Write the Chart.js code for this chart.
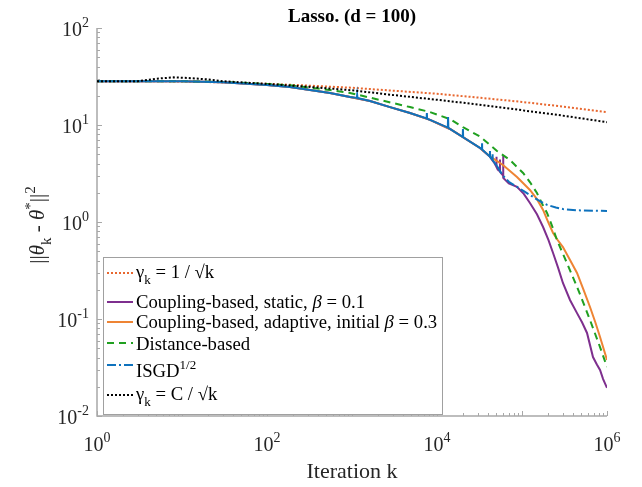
<!DOCTYPE html>
<html>
<head>
<meta charset="utf-8">
<script src="https://cdn.jsdelivr.net/npm/chart.js@4.4.1/dist/chart.umd.min.js"></script>
<style>
html, body { margin: 0; padding: 0; background: #fff; }
</style>
</head>
<body>
<canvas id="chart" width="642" height="487"></canvas>
<script>
// values (iteration k, error)
const kStep1 = [1, 3, 10, 30, 100, 300, 1000, 3000, 10000, 30000, 100000, 300000, 1000000];
const errStep1 = [28.3, 28.3, 28.1, 27.5, 26.6, 25.5, 24.2, 22.6, 21.0, 19.2, 17.3, 15.5, 13.6];

const kStatic = [1, 10, 30, 100, 186, 321, 551, 947, 1630, 2800, 4810, 8280, 14200, 20200, 32000, 42000, 47000, 50000, 50100, 50200, 55000, 55100, 55200, 60000, 60100, 60200, 70000, 87300, 105000, 124000, 150000, 177000, 205000, 232000, 265000, 303000, 367000, 444000, 510000, 582000, 684000, 760000, 828000, 900000, 1000000];
const errStatic = [28.3, 28.3, 27.6, 25.8, 24.6, 23.0, 21.4, 19.4, 17.7, 15.3, 13.3, 11.3, 9.1, 7.5, 5.8, 4.7, 4.1, 3.7, 4.7, 3.68, 3.3, 4.4, 3.28, 3.0, 4.8, 2.85, 2.5, 2.30, 1.95, 1.57, 1.2, 0.888, 0.65, 0.479, 0.34, 0.235, 0.157, 0.115, 0.092, 0.0718, 0.0405, 0.034, 0.0298, 0.024, 0.0195];

const kAdaptive = [1, 10, 30, 100, 186, 321, 551, 947, 1630, 2800, 4810, 8280, 14200, 20200, 32000, 42000, 59700, 87300, 124000, 150000, 177000, 205000, 232000, 260000, 303000, 370000, 444000, 530000, 631000, 730000, 828000, 1000000];
const errAdaptive = [28.3, 28.3, 27.6, 25.8, 24.6, 23.0, 21.4, 19.4, 17.7, 15.3, 13.3, 11.3, 9.1, 7.5, 5.8, 4.75, 3.87, 2.91, 2.14, 1.72, 1.33, 0.98, 0.77, 0.66, 0.552, 0.40, 0.298, 0.20, 0.133, 0.092, 0.0652, 0.0378];

const kDistance = [1, 10, 30, 100, 200, 551, 947, 2135, 4810, 8280, 14200, 20200, 32000, 50800, 72300, 103000, 125000, 150000, 172000, 197000, 225000, 258000, 338000, 444000, 530000, 631000, 828000, 1000000];
const errDistance = [28.3, 28.3, 27.8, 26.5, 25.5, 22.9, 21.4, 18.1, 15.3, 13.6, 11.5, 9.5, 7.6, 5.4, 4.35, 3.2, 2.55, 1.99, 1.55, 1.24, 0.92, 0.652, 0.377, 0.214, 0.145, 0.0977, 0.0514, 0.032];

const kIsgd = [1, 10, 30, 100, 186, 321, 551, 947, 1140, 1150, 1160, 1630, 2800, 4810, 7550, 7600, 7650, 8280, 13400, 13500, 13600, 20100, 20200, 20300, 32000, 33800, 33900, 34000, 41900, 42000, 42100, 45000, 45100, 45200, 50800, 59700, 70000, 87300, 105000, 124000, 155000, 197000, 250000, 303000, 450000, 1000000];
const errIsgd = [28.3, 28.3, 27.6, 25.8, 24.6, 23.0, 21.4, 19.4, 19.0, 20.4, 18.95, 17.7, 15.3, 13.3, 11.7, 13.3, 11.6, 11.3, 9.4, 12.1, 9.35, 7.52, 9.1, 7.48, 5.8, 5.6, 6.5, 5.58, 4.72, 5.4, 4.68, 4.37, 5.0, 4.33, 3.78, 3.0, 2.6, 2.30, 2.08, 1.90, 1.68, 1.50, 1.41, 1.36, 1.32, 1.30];

const kStepC = [1, 3, 5, 8, 12, 20, 30, 100, 300, 1000, 3000, 10000, 30000, 100000, 300000, 1000000];
const errStepC = [28.3, 28.3, 30.0, 31.0, 30.5, 29.5, 28.3, 26.5, 24.8, 22.8, 20.4, 18.2, 16.3, 14.2, 12.5, 10.7];

const seriesNames = ['γk = 1 / √k', 'Coupling-based, static, β = 0.1', 'Coupling-based, adaptive, initial β = 0.3', 'Distance-based', 'ISGD1/2', 'γk = C / √k'];
// same names split into pieces for sub/superscripts
const legendParts = [
	[['γ', ''], ['k', 'sub'], [' = 1 / √k', '']],
	[['Coupling-based, static, ', ''], ['β', 'i'], [' = 0.1', '']],
	[['Coupling-based, adaptive, initial ', ''], ['β', 'i'], [' = 0.3', '']],
	[['Distance-based', '']],
	[['ISGD', ''], ['1/2', 'sup']],
	[['γ', ''], ['k', 'sub'], [' = C / √k', '']]
];
const xTickExps = [0, 2, 4, 6];
const yTickExps = [-2, -1, 0, 1, 2];

const FONT = '"Liberation Serif", "Times New Roman", serif';

function pts(ks, vs) {
	return ks.map((k, i) => ({ x: k, y: vs[i] }));
}

function drawRich(ctx, parts, x, y, size, align) {
	const fontFor = st => {
		const s = (st === 'sub' || st === 'sup') ? Math.round(size * 0.7) : size;
		return (st === 'i' ? 'italic ' : '') + s + 'px ' + FONT;
	};
	let w = 0;
	parts.forEach(([t, st]) => { ctx.font = fontFor(st); w += ctx.measureText(t).width; });
	let cx = align === 'center' ? x - w / 2 : (align === 'right' ? x - w : x);
	ctx.textAlign = 'left';
	ctx.textBaseline = 'alphabetic';
	parts.forEach(([t, st]) => {
		ctx.font = fontFor(st);
		const dy = st === 'sub' ? size * 0.33 : (st === 'sup' ? -size * 0.45 : 0);
		ctx.fillText(t, cx, y + dy);
		cx += ctx.measureText(t).width;
	});
	return w;
}

const axesPlugin = {
	id: 'matlabAxes',
	beforeDatasetsDraw(chart) {
		const { ctx, chartArea: a, scales: { x, y } } = chart;
		ctx.save();
		ctx.strokeStyle = '#a8a8a8';
		ctx.lineWidth = 1;
		// inward ticks
		for (let e = 0; e <= 6; e++) {
			for (let m = 1; m <= 9; m++) {
				const v = m * Math.pow(10, e);
				if (v > 1e6) break;
				const px = Math.round(x.getPixelForValue(v)) + 0.5;
				const len = m === 1 ? 5 : 3;
				ctx.beginPath();
				ctx.moveTo(px, a.bottom);
				ctx.lineTo(px, a.bottom - len);
				ctx.stroke();
			}
		}
		for (let e = -2; e <= 2; e++) {
			for (let m = 1; m <= 9; m++) {
				const v = m * Math.pow(10, e);
				if (v > 100) break;
				const py = Math.round(y.getPixelForValue(v)) + 0.5;
				const len = m === 1 ? 5 : 3;
				ctx.beginPath();
				ctx.moveTo(a.left, py);
				ctx.lineTo(a.left + len, py);
				ctx.stroke();
			}
		}
		// axis lines (left and bottom only)
		ctx.lineWidth = 1.5;
		ctx.beginPath();
		ctx.moveTo(a.left, a.top);
		ctx.lineTo(a.left, a.bottom);
		ctx.lineTo(a.right, a.bottom);
		ctx.stroke();
		ctx.restore();
	},
	afterDatasetsDraw(chart) {
		const { ctx, chartArea: a, scales: { x, y } } = chart;
		ctx.save();
		// legend box
		const box = { left: 103, top: 257, right: 442, bottom: 414 };
		ctx.fillStyle = '#fff';
		ctx.fillRect(box.left, box.top, box.right - box.left, box.bottom - box.top);
		ctx.strokeStyle = '#a0a0a0';
		ctx.lineWidth = 1;
		ctx.strokeRect(box.left + 0.5, box.top + 0.5, box.right - box.left, box.bottom - box.top);
		const sampleY = [273, 302, 322, 343, 365, 395];
		const baseY = [278, 308, 328, 350, 377, 400];
		chart.data.datasets.forEach((ds, i) => {
			ctx.strokeStyle = ds.borderColor;
			ctx.lineWidth = ds.borderWidth;
			ctx.setLineDash(ds.borderDash || []);
			ctx.beginPath();
			ctx.moveTo(107, sampleY[i]);
			ctx.lineTo(133, sampleY[i]);
			ctx.stroke();
			ctx.setLineDash([]);
			ctx.fillStyle = '#000';
			drawRich(ctx, legendParts[i], 136, baseY[i], 18.7, 'left');
		});

		// tick labels
		ctx.fillStyle = '#262626';
		xTickExps.forEach(e => {
			const px = x.getPixelForValue(Math.pow(10, e));
			drawRich(ctx, [['10', ''], [String(e), 'sup']], px, 451, 20, 'center');
		});
		yTickExps.forEach(e => {
			const py = y.getPixelForValue(Math.pow(10, e));
			drawRich(ctx, [['10', ''], [String(e), 'sup']], 89, py + 8, 20, 'right');
		});

		// axis titles
		drawRich(ctx, [['Iteration k', '']], (a.left + a.right) / 2, 478, 22, 'center');
		ctx.translate(44, 225);
		ctx.rotate(-Math.PI / 2);
		drawRich(ctx, [['||', ''], ['θ', 'i'], ['k', 'sub'], [' - ', ''], ['θ', 'i'], ['*', 'sup'], ['||', ''], ['2', 'sup']], 0, 0, 21, 'center');
		ctx.restore();

		// title
		ctx.save();
		ctx.fillStyle = '#000';
		ctx.font = 'bold 19px ' + FONT;
		ctx.textAlign = 'center';
		ctx.textBaseline = 'alphabetic';
		ctx.fillText('Lasso. (d = 100)', (a.left + a.right) / 2, 22);
		ctx.restore();
	}
};

const lineBase = { pointRadius: 0, borderWidth: 2, fill: false, tension: 0 };

new Chart(document.getElementById('chart'), {
	type: 'line',
	data: {
		datasets: [
			{ ...lineBase, label: seriesNames[0], data: pts(kStep1, errStep1), borderColor: '#E8672F', borderDash: [2, 2], order: 6 },
			{ ...lineBase, label: seriesNames[1], data: pts(kStatic, errStatic), borderColor: '#7E2F8E', order: 5 },
			{ ...lineBase, label: seriesNames[2], data: pts(kAdaptive, errAdaptive), borderColor: '#EE8434', order: 4 },
			{ ...lineBase, label: seriesNames[3], data: pts(kDistance, errDistance), borderColor: '#20A020', borderDash: [7, 5], order: 3 },
			{
				...lineBase, label: seriesNames[4], data: pts(kIsgd, errIsgd), borderColor: '#0E72BD', borderDash: [9, 3, 2, 3], order: 2,
				segment: { borderDash: c => (c.p0.parsed.x < 50000 ? [] : [9, 3, 2, 3]) }
			},
			{ ...lineBase, label: seriesNames[5], data: pts(kStepC, errStepC), borderColor: '#000000', borderDash: [2, 2], order: 1 }
		]
	},
	options: {
		responsive: false,
		animation: false,
		devicePixelRatio: 1,
		layout: { padding: { left: 97, top: 28, right: 35, bottom: 71 } },
		scales: {
			x: { type: 'logarithmic', min: 1, max: 1e6, display: false },
			y: { type: 'logarithmic', min: 0.01, max: 100, display: false }
		},
		plugins: {
			legend: { display: false },
			tooltip: { enabled: false }
		}
	},
	plugins: [axesPlugin]
});
</script>
</body>
</html>
